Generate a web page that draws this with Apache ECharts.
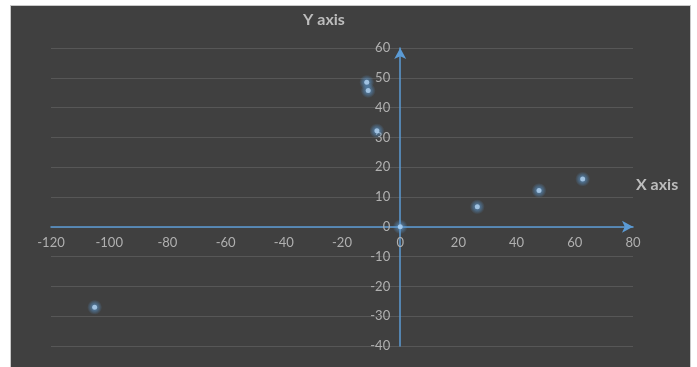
<!DOCTYPE html>
<html><head><meta charset="utf-8">
<script src="https://cdn.jsdelivr.net/npm/echarts@6/dist/echarts.min.js"></script>
<style>
html,body{margin:0;padding:0;background:#fff;width:697px;height:367px;overflow:hidden;}
#bg{position:absolute;left:10px;top:5px;width:681px;height:370px;background:#404040;border:1px solid #c8c8c8;box-sizing:border-box;}
#c{position:absolute;left:0;top:0;width:697px;height:367px;}
</style></head>
<body>
<div id="bg"></div>
<div id="c"></div>
<script>
const xValues = [-105, -11.5, -11, -8, 0, 26.5, 47.7, 62.7];
const yValues = [-27, 48.5, 45.7, 32.2, 0, 6.7, 12.2, 16.0];
const xAxisName = "X axis";
const yAxisName = "Y axis";

const points = xValues.map((x, i) => [x, yValues[i]]);
const chart = echarts.init(document.getElementById('c'), null, {renderer: 'canvas'});
const font = 'Lato, "Open Sans", sans-serif';
const gridL = 51, gridR = 64, gridT = 48, gridB = 21;
const W = 697, H = 367;
const xMin = -120, xMax = 80, yMin = -40, yMax = 60;
// place axes on the zero lines (labels included)
const yOffset = -((0 - xMin) / (xMax - xMin)) * (W - gridL - gridR);
const xOffset = -((0 - yMin) / (yMax - yMin)) * (H - gridT - gridB);
const glow = new echarts.graphic.RadialGradient(0.5, 0.5, 0.5, [
  {offset: 0, color: 'rgba(91,155,213,0.9)'},
  {offset: 0.5, color: 'rgba(91,155,213,0.55)'},
  {offset: 1, color: 'rgba(91,155,213,0)'}
]);
chart.setOption({
  backgroundColor: 'transparent',
  animation: false,
  grid: {left: gridL, right: gridR, top: gridT, bottom: gridB, containLabel: false},
  xAxis: {
    type: 'value', min: xMin, max: xMax, interval: 20,
    position: 'bottom', offset: xOffset,
    axisLine: {show: true, onZero: false, symbol: ['none', 'arrow'], symbolSize: [9, 11],
      lineStyle: {color: '#5b9bd5', width: 1.5}},
    axisTick: {show: false},
    splitLine: {show: false},
    axisLabel: {color: '#b0b0b0', fontSize: 13, fontFamily: font, margin: 10}
  },
  yAxis: {
    type: 'value', min: yMin, max: yMax, interval: 10,
    position: 'left', offset: yOffset,
    axisLine: {show: true, onZero: false, symbol: ['none', 'arrow'], symbolSize: [9, 11],
      lineStyle: {color: '#5b9bd5', width: 1.5}},
    axisTick: {show: false},
    splitLine: {show: true, lineStyle: {color: '#575757', width: 1}},
    axisLabel: {color: '#b0b0b0', fontSize: 13, fontFamily: font, margin: 10}
  },
  graphic: [
    {type: 'text', left: 303, top: 12, style: {text: yAxisName, fill: '#bdbdbd', font: 'bold 16px ' + font}},
    {type: 'text', left: 636, top: 177, style: {text: xAxisName, fill: '#bdbdbd', font: 'bold 16px ' + font}}
  ],
  series: [{
    type: 'scatter',
    data: points,
    symbolSize: 15,
    silent: true,
    itemStyle: {color: glow},
    z: 4
  }, {
    type: 'scatter',
    data: points,
    symbolSize: 5,
    itemStyle: {color: '#b4d5f3'},
    z: 5
  }]
});
</script>
</body></html>
